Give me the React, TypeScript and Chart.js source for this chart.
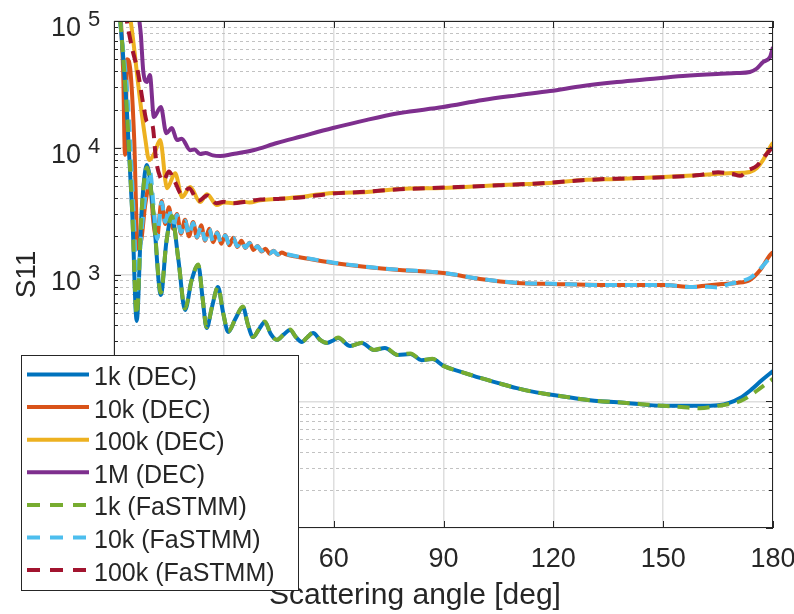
import React, { useEffect, useRef } from 'react';
import { Chart, registerables } from 'chart.js';

Chart.register(...registerables);

const FONT = '"Liberation Sans", Arial, Helvetica, sans-serif';
const TEXT = '#262626';

// ---------- axis ticks ----------
const xTickValues = [0, 30, 60, 90, 120, 150, 180];
const yDecades = [10, 100, 1000, 10000, 100000];
const yExponents = ['1', '2', '3', '4', '5'];
const minorMultipliers = [2, 3, 4, 5, 6, 7, 8, 9];

const xAxisTitle = 'Scattering angle [deg]';
const yAxisTitle = 'S11';

// ---------- series ----------
const seriesLabels = [
  '1k (DEC)',
  '10k (DEC)',
  '100k (DEC)',
  '1M (DEC)',
  '1k (FaSTMM)',
  '10k (FaSTMM)',
  '100k (FaSTMM)',
];
const seriesColors = ['#0072BD', '#D95319', '#EDB120', '#7E2F8E', '#77AC30', '#4DBEEE', '#A2142F'];
const seriesDashed = [false, false, false, false, true, true, true];

const angles1kDec = [0, 2, 3.5, 5, 6.2, 7.5, 9, 10.8, 12.8, 14.3, 15.8, 17.6, 19.4, 21.2, 23, 24.2, 25.3, 26.8, 28.4, 29.8, 31.2, 33.2, 35.2, 36.6, 38, 39.6, 41.2, 42.8, 44.5, 46.3, 48.1, 49.7, 51.3, 52.8, 54.4, 56.3, 58.2, 59.7, 61.2, 64.5, 67.7, 71, 74, 77.5, 81, 84, 87, 90, 95, 100, 105, 110, 115, 120, 130, 140, 150, 160, 165, 168, 171, 174, 177, 180];
const values1kDec = [3e5, 8e4, 2e4, 3000, 430, 3000, 7300, 3000, 690, 1800, 2840, 1300, 525, 900, 1190, 650, 378, 560, 797, 500, 352, 450, 555, 400, 321, 370, 422, 340, 304, 335, 365, 320, 293, 320, 345, 305, 288, 300, 315, 273, 288, 254, 263, 232, 236, 211, 215, 190, 170, 153, 139, 127, 118, 112, 102, 97, 92, 92, 93, 97, 106, 123, 147, 173];

const angles10kDec = [0, 1.5, 2.5, 3.0, 3.6, 4.5, 5.5, 6.5, 7.5, 8.5, 9.8, 10.8, 11.7, 13, 14, 15, 16.1, 17.2, 18.3, 19.4, 20.5, 21.6, 22.7, 23.8, 24.9, 26, 27.1, 28.2, 29.3, 30.4, 31.5, 32.6, 33.7, 34.8, 35.9, 37, 38.1, 39.2, 40.3, 41.4, 42.5, 43.6, 44.7, 45.8, 47, 50, 55, 60, 69, 78, 90, 100, 110, 120, 133, 140, 150, 158, 162, 166, 170, 173.7, 176.5, 179.2, 180];
const values10kDec = [4e5, 1.5e5, 4e4, 8800, 5e4, 4e4, 1.2e4, 1600, 1900, 3500, 5200, 2500, 1900, 3800, 2500, 3400, 2300, 3000, 2100, 2700, 2000, 2600, 1950, 2450, 1850, 2300, 1800, 2150, 1750, 2050, 1700, 1950, 1650, 1850, 1620, 1780, 1560, 1680, 1520, 1600, 1460, 1540, 1430, 1490, 1440, 1380, 1300, 1233, 1146, 1085, 1027, 921, 857, 841, 826, 826, 826, 797, 820, 840, 857, 906, 1084, 1425, 1500];

const angles100kDec = [0, 3, 5, 7.1, 8.5, 9.6, 11, 12.6, 14.5, 16.7, 18.6, 20.8, 23.5, 25.4, 28.1, 30, 32.5, 35, 37, 40, 45, 50.8, 55, 59.8, 65, 69.1, 78.1, 89.9, 100, 105.4, 119.1, 128.1, 137.4, 150, 160, 169, 173.7, 175.6, 177.3, 179.2, 180];
const values100kDec = [5e5, 2e5, 8e4, 24000, 12000, 8000, 9000, 11500, 4800, 6300, 4080, 4900, 3730, 4300, 3530, 3700, 3650, 3750, 3700, 3850, 3950, 4080, 4250, 4390, 4430, 4480, 4730, 4810, 4980, 5080, 5270, 5570, 5670, 5870, 6090, 6310, 6440, 6920, 8000, 10100, 11000];

const angles1MDec = [0, 4, 6, 7.3, 8, 9, 9.8, 10.9, 12.8, 14.3, 15.8, 17.2, 18.5, 20.8, 22, 23.5, 25, 27, 29, 32.5, 38, 44.5, 50.8, 59.8, 69.1, 78.1, 89.9, 100.8, 110, 119.1, 128.1, 137.4, 146.4, 155.4, 164.7, 170, 173.7, 175.5, 177.3, 179.2, 180];
const values1MDec = [1e6, 3e5, 1.5e5, 8e4, 4e4, 33000, 37500, 17500, 21000, 13000, 14300, 11500, 11800, 9560, 9700, 8920, 9100, 8700, 8610, 8920, 9560, 10900, 12200, 14300, 16600, 18800, 20960, 23800, 25900, 28000, 30700, 33000, 34900, 36800, 38200, 38800, 39600, 42000, 47500, 52000, 62400];

const angles1kFa = [0, 2, 3.5, 5, 6.2, 7.5, 9, 10.8, 12.8, 14.3, 15.8, 17.6, 19.4, 21.2, 23, 24.2, 25.3, 26.8, 28.4, 29.8, 31.2, 33.2, 35.2, 36.6, 38, 39.6, 41.2, 42.8, 44.5, 46.3, 48.1, 49.7, 51.3, 52.8, 54.4, 56.3, 58.2, 59.7, 61.2, 64.5, 67.7, 71, 74, 77.5, 81, 84, 87, 90, 95, 100, 105, 110, 115, 120, 130, 140, 150, 155, 160, 165, 168, 171, 174, 177, 180];
const values1kFa = [3e5, 8e4, 2e4, 3000, 480, 3000, 7000, 3000, 720, 1800, 2900, 1300, 540, 900, 1200, 650, 385, 560, 800, 500, 355, 450, 560, 400, 322, 370, 425, 340, 305, 335, 368, 320, 294, 320, 348, 305, 289, 300, 318, 273, 290, 254, 265, 232, 238, 211, 216, 190, 170, 153, 139, 127, 118, 112, 102, 97, 92, 90, 88, 92, 95, 100, 112, 130, 150];

const angles10kFa = [0, 2, 3.5, 4.5, 5.5, 6.3, 7.3, 8.5, 9.8, 11, 11.8, 13, 14, 15, 16.1, 17.2, 18.3, 19.4, 20.5, 21.6, 22.7, 23.8, 24.9, 26, 27.1, 28.2, 29.3, 30.4, 31.5, 32.6, 33.7, 34.8, 35.9, 37, 38.1, 39.2, 40.3, 41.4, 42.5, 43.6, 44.7, 45.8, 47, 50, 55, 60, 69, 78, 90, 100, 110, 120, 133, 140, 150, 158, 162, 165, 168, 171, 174, 177, 180];
const values10kFa = [3e5, 8e4, 3e4, 1e4, 2500, 700, 1800, 4000, 6500, 3000, 1900, 3700, 2600, 3300, 2350, 2950, 2150, 2650, 2050, 2550, 1980, 2400, 1880, 2280, 1820, 2130, 1770, 2030, 1720, 1930, 1670, 1840, 1630, 1770, 1570, 1670, 1530, 1590, 1470, 1530, 1440, 1480, 1450, 1390, 1310, 1240, 1150, 1090, 1030, 925, 860, 845, 826, 826, 826, 797, 800, 790, 840, 880, 950, 1150, 1450];

const angles100kFa = [0, 2, 3.5, 5, 6.5, 8, 9, 10.5, 11.5, 12.5, 13.5, 15, 16.5, 18.5, 20.5, 23, 25.5, 28, 30, 32.5, 36, 40, 45, 50.8, 59.8, 69, 78, 90, 105, 119, 128, 137, 150, 160, 165, 169, 171, 173, 175.6, 177.3, 179.2, 180];
const values100kFa = [5e5, 2e5, 1e5, 6e4, 4e4, 22000, 16000, 15000, 8000, 6000, 5500, 6500, 5500, 4300, 4800, 3800, 4200, 3650, 3750, 3650, 3750, 3900, 3950, 4050, 4350, 4500, 4700, 4850, 5050, 5300, 5550, 5700, 5850, 6100, 6400, 6200, 6000, 6600, 7200, 8300, 9600, 10300];

const seriesAngles = [angles1kDec, angles10kDec, angles100kDec, angles1MDec, angles1kFa, angles10kFa, angles100kFa];
const seriesValues = [values1kDec, values10kDec, values100kDec, values1MDec, values1kFa, values10kFa, values100kFa];

const DASH = [12, 8];

const framePlugin = {
  id: 'frame',
  beforeDatasetsDraw(chart: any) {
    const { ctx, chartArea: a } = chart;
    const y = chart.scales.y;
    ctx.save();
    ctx.lineWidth = 1;
    ctx.strokeStyle = '#c2c2c2';
    ctx.setLineDash([3, 3]);
    for (const d of yDecades) {
      for (const m of minorMultipliers) {
        const v = d * m;
        if (v >= yDecades[yDecades.length - 1]) continue;
        const py = Math.round(y.getPixelForValue(v)) + 0.5;
        ctx.beginPath();
        ctx.moveTo(a.left, py);
        ctx.lineTo(a.right, py);
        ctx.stroke();
      }
    }
    ctx.restore();
  },
  afterDatasetsDraw(chart: any) {
    const { ctx, chartArea: a } = chart;
    const x = chart.scales.x;
    const y = chart.scales.y;
    ctx.save();
    ctx.strokeStyle = TEXT;
    ctx.lineWidth = 1;
    const hline = (x0: number, x1: number, py: number) => {
      ctx.beginPath();
      ctx.moveTo(x0, py);
      ctx.lineTo(x1, py);
      ctx.stroke();
    };
    for (const d of yDecades) {
      const py = Math.round(y.getPixelForValue(d)) + 0.5;
      hline(a.left, a.left + 7, py);
      hline(a.right - 7, a.right, py);
      for (const m of minorMultipliers) {
        const v = d * m;
        if (v >= yDecades[yDecades.length - 1]) continue;
        const pm = Math.round(y.getPixelForValue(v)) + 0.5;
        hline(a.left, a.left + 4, pm);
        hline(a.right - 4, a.right, pm);
      }
    }
    for (const v of xTickValues) {
      const px = Math.round(x.getPixelForValue(v)) + 0.5;
      ctx.beginPath();
      ctx.moveTo(px, a.bottom);
      ctx.lineTo(px, a.bottom - 7);
      ctx.moveTo(px, a.top);
      ctx.lineTo(px, a.top + 7);
      ctx.stroke();
    }
    ctx.strokeRect(a.left + 0.5, a.top + 0.5, a.right - a.left - 1, a.bottom - a.top - 1);
    ctx.restore();
  },
  afterDraw(chart: any) {
    const { ctx, chartArea: a } = chart;
    const y = chart.scales.y;
    ctx.save();
    ctx.fillStyle = TEXT;
    // y tick labels 10^n
    yDecades.forEach((d, i) => {
      const py = y.getPixelForValue(d);
      ctx.font = `27px ${FONT}`;
      ctx.textAlign = 'right';
      ctx.textBaseline = 'alphabetic';
      ctx.fillText('10', 81, py + 15);
      ctx.font = `22px ${FONT}`;
      ctx.textAlign = 'left';
      ctx.fillText(yExponents[i], 88, py + 5);
    });
    // axis titles
    ctx.font = `30px ${FONT}`;
    ctx.textAlign = 'center';
    ctx.textBaseline = 'alphabetic';
    ctx.fillText(xAxisTitle, 415, 604);
    ctx.save();
    ctx.font = `28px ${FONT}`;
    ctx.translate(35, (a.top + a.bottom) / 2);
    ctx.rotate(-Math.PI / 2);
    ctx.fillText(yAxisTitle, 0, 0);
    ctx.restore();

    // legend
    const bx = 21, by = 355, bw = 277, bh = 235;
    ctx.fillStyle = '#ffffff';
    ctx.fillRect(bx, by, bw, bh);
    ctx.strokeStyle = TEXT;
    ctx.lineWidth = 1;
    ctx.strokeRect(bx + 0.5, by + 0.5, bw, bh);
    const row0 = 374.5, step = 32.6;
    seriesLabels.forEach((label, i) => {
      const ry = row0 + i * step;
      ctx.save();
      ctx.strokeStyle = seriesColors[i];
      ctx.lineWidth = 4;
      ctx.setLineDash(seriesDashed[i] ? [13, 10] : []);
      ctx.beginPath();
      ctx.moveTo(27, ry);
      ctx.lineTo(89, ry);
      ctx.stroke();
      ctx.restore();
      ctx.fillStyle = TEXT;
      ctx.font = `25px ${FONT}`;
      ctx.textAlign = 'left';
      ctx.textBaseline = 'alphabetic';
      ctx.fillText(label, 94, ry + 10.5);
    });
    ctx.restore();
  },
};

export default function App() {
  const canvasRef = useRef<HTMLCanvasElement | null>(null);

  useEffect(() => {
    const canvas = canvasRef.current;
    if (!canvas) return;
    const datasets = seriesLabels.map((label, i) => ({
      label,
      data: seriesAngles[i].map((a, j) => ({ x: a, y: seriesValues[i][j] })),
      borderColor: seriesColors[i],
      backgroundColor: seriesColors[i],
      borderWidth: 4,
      borderDash: seriesDashed[i] ? DASH : [],
      pointRadius: 0,
      cubicInterpolationMode: 'monotone' as const,
      fill: false,
      clip: 0,
      order: seriesDashed[i] ? 0 : 1,
    }));

    const chart = new Chart(canvas, {
      type: 'line',
      data: { datasets },
      plugins: [framePlugin],
      options: {
        animation: false,
        responsive: false,
        devicePixelRatio: 1,
        layout: { padding: { left: 0, right: 21, top: 21, bottom: 0 } },
        plugins: { legend: { display: false }, tooltip: { enabled: false }, title: { display: false } },
        scales: {
          x: {
            type: 'linear',
            min: 0,
            max: 180,
            afterBuildTicks: (s: any) => {
              s.ticks = xTickValues.map((v) => ({ value: v }));
            },
            afterFit: (s: any) => {
              s.height = 86;
              s.paddingLeft = 0;
              s.paddingRight = 0;
            },
            grid: { color: '#dedede', lineWidth: 1.5, drawTicks: false },
            border: { display: false },
            ticks: {
              autoSkip: false,
              maxRotation: 0,
              padding: 15,
              color: TEXT,
              font: { family: FONT, size: 27 },
              callback: (v: any) => String(v),
            },
          },
          y: {
            type: 'logarithmic',
            min: 10,
            max: 100000,
            afterBuildTicks: (s: any) => {
              s.ticks = yDecades.map((v) => ({ value: v }));
            },
            afterFit: (s: any) => {
              s.width = 114;
              s.paddingTop = 0;
              s.paddingBottom = 0;
            },
            grid: { color: '#dedede', lineWidth: 1.5, drawTicks: false },
            border: { display: false },
            ticks: { display: false },
          },
        },
      },
    } as any);
    return () => chart.destroy();
  }, []);

  return (
    <div style={{ position: 'fixed', left: 0, top: 0, width: 794, height: 614, background: '#fff' }}>
      <canvas ref={canvasRef} width={794} height={614} style={{ display: 'block' }} />
    </div>
  );
}
